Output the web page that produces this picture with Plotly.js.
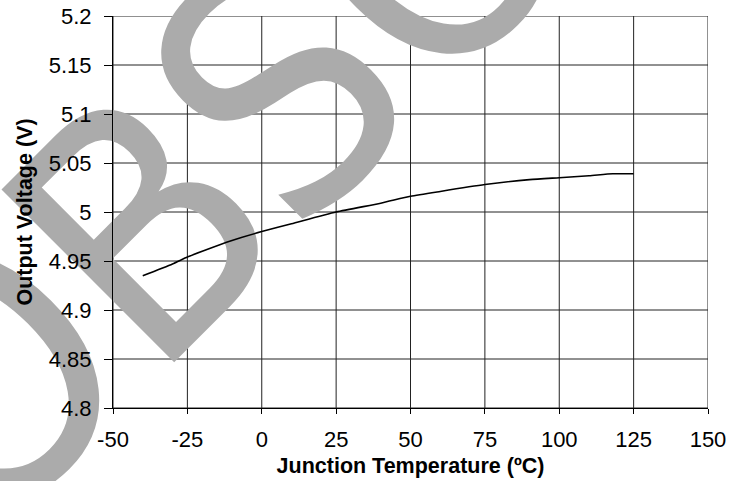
<!DOCTYPE html>
<html><head><meta charset="utf-8">
<script src="https://cdn.plot.ly/plotly-3.0.1.min.js"></script>
<style>html,body{margin:0;padding:0;background:#fff}#chart{width:730px;height:481px}</style>
</head><body><div id="chart"></div>
<script>
// ---- data ----
const temperatureC = [-40, -30, -25, -20, -10, 0, 10, 25, 40, 50, 60, 75, 90, 100, 110, 118, 125];
const outputVoltage = [4.935, 4.947, 4.954, 4.960, 4.971, 4.980, 4.988, 5.000, 5.009, 5.016, 5.021, 5.028, 5.033, 5.035, 5.037, 5.039, 5.039];
const xTickVals = [-50, -25, 0, 25, 50, 75, 100, 125, 150];
const xTickText = ['-50', '-25', '0', '25', '50', '75', '100', '125', '150'];
const yTickVals = [4.8, 4.85, 4.9, 4.95, 5.0, 5.05, 5.1, 5.15, 5.2];
const yTickText = ['4.8', '4.85', '4.9', '4.95', '5', '5.05', '5.1', '5.15', '5.2'];
const xTitle = 'Junction Temperature (ºC)';
const yTitle = 'Output Voltage (V)';
const watermarkText = 'OBSOLETE';

// ---- style ----
const FONT = 'Arial, "Liberation Sans", sans-serif';
const WM_FONT = '"Liberation Sans Narrow", "Arial Narrow", "DejaVu Sans Condensed", Arial, sans-serif';
const WM_COLOR = '#ababab';
const gridColor = '#222';

const gridShapes = [];
xTickVals.forEach(v => gridShapes.push({
  type: 'line', xref: 'x', yref: 'paper', x0: v, x1: v, y0: 0, y1: 1,
  line: {color: gridColor, width: 1}, layer: 'below'
}));
yTickVals.forEach(v => gridShapes.push({
  type: 'line', xref: 'paper', yref: 'y', x0: 0, x1: 1, y0: v, y1: v,
  line: {color: gridColor, width: 1}, layer: 'below'
}));

function wmLabel(text, cx, cy, size) {
  return {
    type: 'rect', xref: 'paper', yref: 'paper',
    x0: cx - 0.001, x1: cx + 0.001, y0: cy - 0.001, y1: cy + 0.001,
    line: {width: 0}, fillcolor: 'rgba(0,0,0,0)', layer: 'below',
    label: {
      text: text, textangle: -45, textposition: 'middle center',
      font: {family: WM_FONT, size: size, color: WM_COLOR}
    }
  };
}
const watermark = [
  wmLabel(watermarkText.slice(0, 1), -0.2529, 0.1161, 350),
  wmLabel(watermarkText.slice(1), 0.7106, 1.5446, 335)
];

const trace = {
  x: temperatureC, y: outputVoltage, type: 'scatter', mode: 'lines',
  line: {color: '#000', width: 1.6, shape: 'spline', smoothing: 0.6},
  hoverinfo: 'skip'
};

const layout = {
  width: 730, height: 481,
  margin: {l: 113, r: 22, t: 16, b: 73},
  paper_bgcolor: '#fff', plot_bgcolor: 'rgba(0,0,0,0)',
  showlegend: false,
  font: {family: FONT, color: '#000'},
  xaxis: {
    range: [-50, 150], tickmode: 'array', tickvals: xTickVals, ticktext: xTickText,
    showgrid: false, zeroline: false, showline: true, linecolor: '#000', linewidth: 1,
    ticks: 'outside', ticklen: 5, tickcolor: '#000', tickwidth: 1, ticklabelstandoff: 7,
    tickfont: {family: FONT, size: 22, color: '#000'},
    title: {text: xTitle + '\u00a0\u00a0\u00a0', font: {family: FONT, size: 21.5, color: '#000', weight: 'bold'}, standoff: 6}
  },
  yaxis: {
    range: [4.8, 5.2], tickmode: 'array', tickvals: yTickVals, ticktext: yTickText,
    showgrid: false, zeroline: false, showline: true, linecolor: '#000', linewidth: 1,
    ticks: 'outside', ticklen: 8, tickcolor: '#000', tickwidth: 1, ticklabelstandoff: 8,
    tickfont: {family: FONT, size: 22, color: '#000'},
    title: {text: yTitle, font: {family: FONT, size: 21.5, color: '#000', weight: 'bold'}, standoff: 10}
  },
  shapes: gridShapes.concat(watermark)
};

Plotly.newPlot('chart', [trace], layout, {displayModeBar: false, staticPlot: true});
</script>
</body></html>
